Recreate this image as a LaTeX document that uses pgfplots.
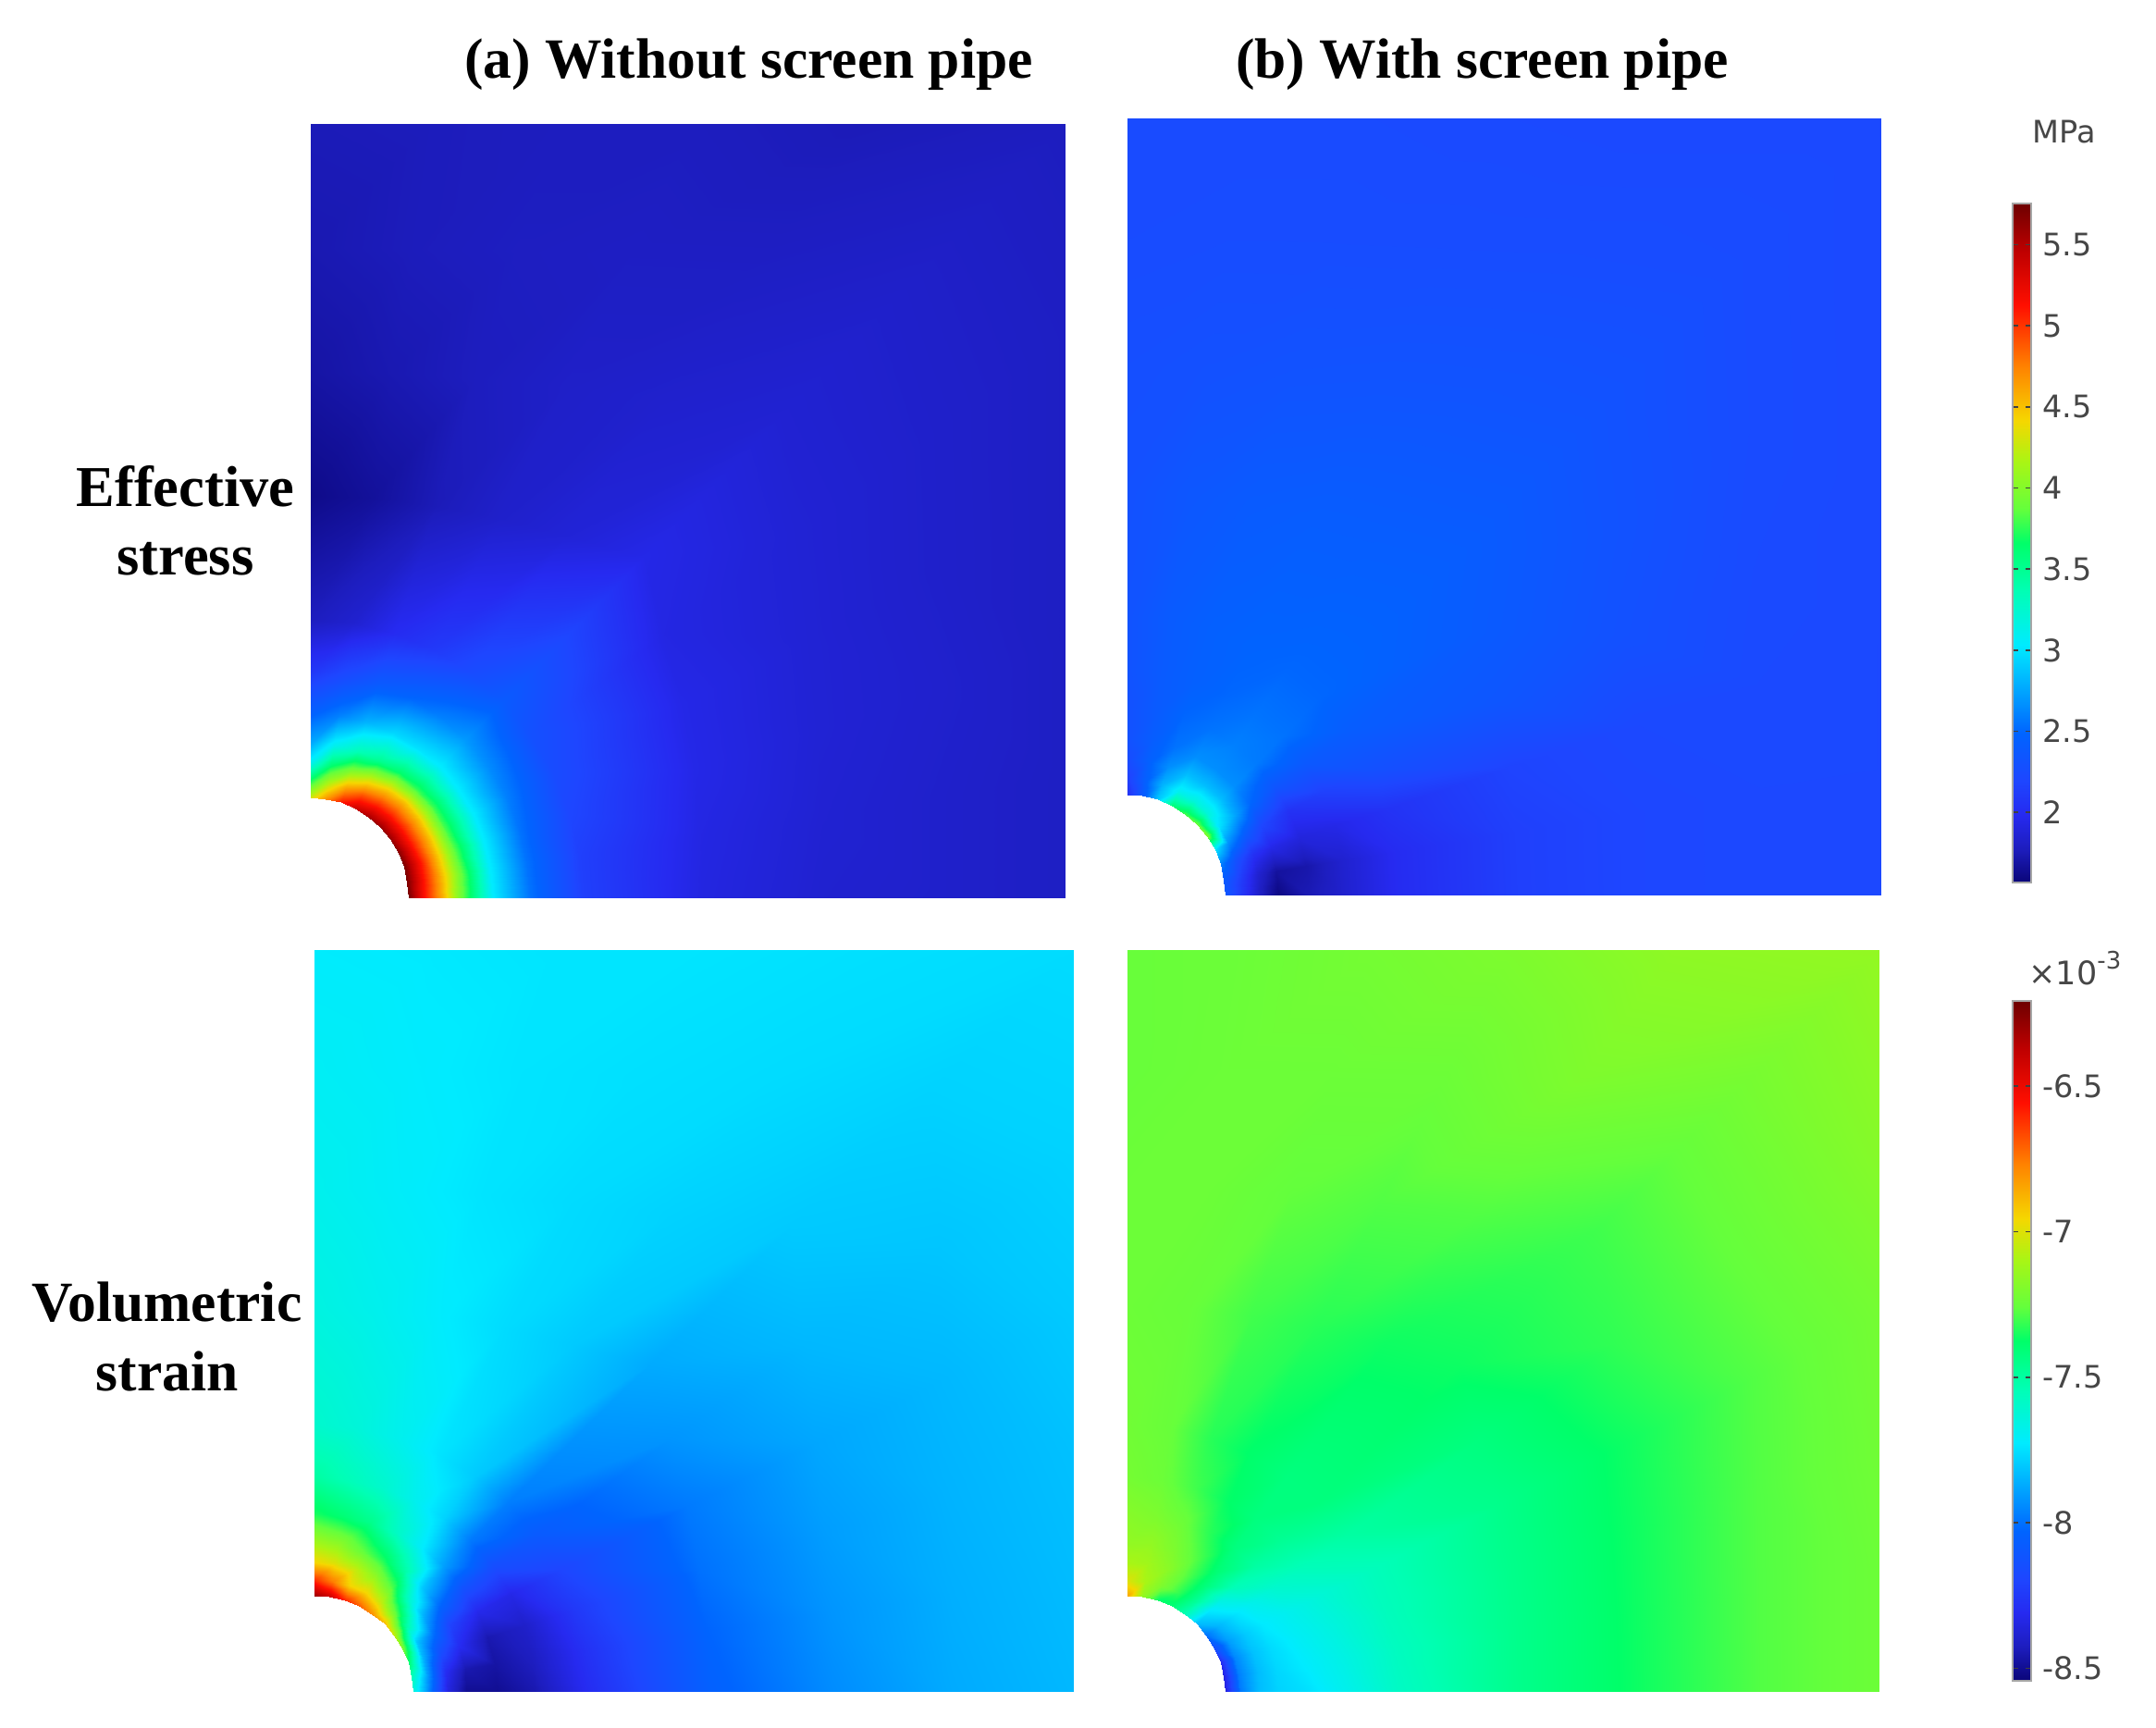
\documentclass[border=0pt]{standalone}
\usepackage{pgfplots}
\usepackage{pgfplotstable}
\usepackage{fontspec}
\pgfplotsset{compat=1.18}
\setmainfont{Liberation Serif}
\newfontfamily\cbfont{DejaVu Sans}
\definecolor{cbtext}{RGB}{70,70,70}

% rainbow map of the two colour bars
\pgfplotsset{colormap={comsol}{
  rgb255(0pt)=(10,5,120); rgb255(5pt)=(29,29,190); rgb255(10pt)=(38,42,240); rgb255(15pt)=(30,70,255);
  rgb255(22pt)=(0,100,255);
  rgb255(35pt)=(0,235,255); rgb255(43pt)=(0,255,180); rgb255(50pt)=(0,255,105);
  rgb255(55pt)=(100,255,60); rgb255(62pt)=(170,245,20); rgb255(68pt)=(245,215,0);
  rgb255(76pt)=(255,130,0); rgb255(85pt)=(255,15,0); rgb255(93pt)=(190,0,0);
  rgb255(100pt)=(110,0,0)}}

\pgfplotsset{panel/.style={
    scale only axis, anchor=south west,
    xmin=0, xmax=1, ymin=0, ymax=1,
    view={0}{90}, axis lines=none, ticks=none,
    colormap name=comsol,
  },
  field/.style={surf, shader=interp, mesh/rows=11, mesh/cols=11},
  bar/.style={
    anchor=south west, width=4pt,
    axis line style={black!35, line width=0.3pt},
    ytick style={black!75, line width=0.3pt},
    major tick length=1.2pt, tick align=inside, ytick pos=both,
    yticklabel pos=right,
    yticklabel style={font=\cbfont\fontsize{6.7}{8}\selectfont, text=cbtext, xshift=-1pt},
  },
}

% s = polar grid round the hole; columns: x y, stress a/b, strain a/b
\pgfplotstableread{
x y s1 s2 e1 e2
.130 0 5.70 2.35 -7.65 -8.35
.150 0 5.15 2.10 -7.95 -7.98
.175 0 4.55 1.80 -8.35 -7.83
.200 0 3.90 1.60 -8.50 -7.78
.240 0 3.05 1.75 -8.50 -7.75
.290 0 2.55 1.85 -8.45 -7.68
.360 0 2.15 2.00 -8.30 -7.58
.520 0 1.92 2.15 -8.05 -7.45
.680 0 1.85 2.20 -7.94 -7.36
.840 0 1.83 2.22 -7.87 -7.28
1 0 1.80 2.22 -7.84 -7.24
.128 .020 5.70 2.40 -7.55 -8.35
.148 .023 5.15 2.15 -7.90 -7.97
.173 .027 4.55 1.85 -8.30 -7.83
.198 .031 3.90 1.68 -8.45 -7.77
.237 .038 3.05 1.72 -8.47 -7.72
.286 .045 2.55 1.85 -8.42 -7.66
.356 .056 2.15 2.00 -8.28 -7.57
.517 .082 1.93 2.15 -8.03 -7.45
.678 .107 1.86 2.20 -7.92 -7.36
.839 .133 1.83 2.22 -7.86 -7.28
1 .158 1.80 2.22 -7.83 -7.24
.124 .040 5.70 2.60 -7.40 -8.30
.143 .046 5.15 2.30 -7.85 -7.95
.166 .054 4.55 2.05 -8.15 -7.82
.190 .062 3.85 1.95 -8.30 -7.76
.228 .074 3.05 1.90 -8.45 -7.70
.276 .090 2.55 1.95 -8.40 -7.64
.342 .111 2.20 2.05 -8.25 -7.56
.507 .165 1.95 2.18 -8.00 -7.45
.671 .218 1.87 2.22 -7.90 -7.36
.836 .272 1.84 2.23 -7.85 -7.28
1 .325 1.80 2.22 -7.82 -7.23
.116 .059 5.65 3.00 -7.20 -8.15
.134 .068 5.12 2.66 -7.80 -7.90
.156 .079 4.52 2.40 -8.00 -7.80
.178 .091 3.80 2.20 -8.20 -7.73
.214 .109 3.05 2.05 -8.32 -7.68
.258 .132 2.60 2.15 -8.33 -7.62
.321 .163 2.25 2.30 -8.20 -7.56
.491 .250 1.95 2.35 -7.98 -7.45
.660 .336 1.87 2.30 -7.88 -7.36
.830 .423 1.83 2.24 -7.84 -7.28
1 .510 1.80 2.22 -7.80 -7.22
.105 .076 5.60 4.00 -7.05 -8.00
.121 .088 5.10 3.00 -7.50 -7.85
.142 .103 4.50 2.75 -7.85 -7.75
.162 .118 3.78 2.50 -8.00 -7.68
.194 .141 3.05 2.35 -8.12 -7.60
.235 .170 2.65 2.38 -8.15 -7.55
.291 .212 2.30 2.42 -8.08 -7.50
.468 .340 1.93 2.40 -7.92 -7.42
.646 .469 1.87 2.32 -7.84 -7.32
.823 .598 1.83 2.25 -7.81 -7.25
1 .727 1.80 2.22 -7.78 -7.18
.092 .092 5.60 3.90 -6.90 -7.83
.106 .106 5.10 3.20 -7.25 -7.75
.124 .124 4.50 2.85 -7.60 -7.65
.141 .141 3.75 2.66 -7.80 -7.55
.170 .170 3.05 2.58 -7.90 -7.50
.205 .205 2.70 2.55 -7.98 -7.47
.255 .255 2.40 2.50 -7.97 -7.42
.441 .441 1.95 2.42 -7.87 -7.36
.627 .627 1.86 2.32 -7.80 -7.30
.814 .814 1.82 2.25 -7.78 -7.22
1 1 1.78 2.22 -7.76 -7.15
.076 .105 5.55 3.80 -6.80 -7.55
.088 .121 5.05 3.20 -7.05 -7.48
.103 .142 4.40 2.85 -7.30 -7.42
.118 .162 3.65 2.66 -7.50 -7.40
.141 .194 3.00 2.60 -7.72 -7.42
.170 .235 2.60 2.55 -7.78 -7.42
.212 .291 2.25 2.50 -7.80 -7.42
.340 .468 1.88 2.42 -7.80 -7.36
.469 .646 1.84 2.33 -7.78 -7.28
.598 .823 1.80 2.26 -7.76 -7.20
.727 1 1.76 2.22 -7.75 -7.16
.059 .116 5.40 3.60 -6.70 -7.40
.068 .134 4.90 3.10 -6.95 -7.32
.079 .156 4.20 2.85 -7.15 -7.28
.091 .178 3.50 2.66 -7.35 -7.28
.109 .214 2.95 2.55 -7.58 -7.33
.132 .258 2.50 2.50 -7.68 -7.37
.163 .321 2.10 2.48 -7.74 -7.38
.250 .491 1.83 2.42 -7.76 -7.33
.336 .660 1.82 2.33 -7.76 -7.28
.423 .830 1.80 2.26 -7.75 -7.24
.510 1 1.78 2.23 -7.74 -7.20
.040 .124 5.10 2.90 -6.60 -7.38
.046 .143 4.60 2.80 -6.95 -7.20
.054 .166 3.95 2.66 -7.05 -7.17
.062 .190 3.35 2.55 -7.25 -7.20
.074 .228 2.80 2.50 -7.45 -7.24
.090 .276 2.40 2.45 -7.60 -7.30
.111 .342 2.00 2.45 -7.68 -7.33
.165 .507 1.76 2.40 -7.72 -7.30
.218 .671 1.78 2.32 -7.74 -7.26
.272 .836 1.79 2.26 -7.74 -7.24
.325 1 1.78 2.24 -7.74 -7.22
.020 .128 4.70 2.40 -6.40 -7.15
.023 .148 4.20 2.45 -6.75 -7.10
.027 .173 3.60 2.45 -7.00 -7.12
.031 .198 3.10 2.42 -7.15 -7.15
.038 .237 2.60 2.40 -7.40 -7.20
.045 .286 2.25 2.40 -7.55 -7.24
.056 .356 1.85 2.40 -7.63 -7.25
.082 .517 1.67 2.36 -7.68 -7.25
.107 .678 1.74 2.30 -7.71 -7.24
.133 .839 1.77 2.26 -7.72 -7.24
.158 1 1.77 2.24 -7.73 -7.24
0 .130 4.30 2.05 -6.30 -6.85
0 .150 3.75 2.15 -6.60 -7.00
0 .175 3.10 2.25 -6.95 -7.10
0 .200 2.78 2.30 -7.10 -7.15
0 .240 2.45 2.30 -7.35 -7.18
0 .290 2.10 2.32 -7.50 -7.22
0 .360 1.78 2.32 -7.60 -7.23
0 .520 1.62 2.30 -7.65 -7.24
0 .680 1.70 2.28 -7.68 -7.24
0 .840 1.74 2.25 -7.70 -7.25
0 1 1.76 2.24 -7.72 -7.25
}\griddata

\begin{document}
\begin{tikzpicture}[x=1pt,y=1pt]
\path[use as bounding box] (0,0) rectangle (466.2,373.6);

\begin{axis}[panel, at={(67.2pt,179.4pt)}, width=163.2pt, height=167.4pt,
    point meta min=1.568, point meta max=5.754]
\addplot3[field] table[x=x,y=y,z=s1] {\griddata};
\end{axis}

\begin{axis}[panel, at={(243.8pt,180pt)}, width=163pt, height=168pt,
    point meta min=1.568, point meta max=5.754,
    colorbar,
    colorbar style={bar, at={(1.1742,0.0167)}, height=146.8pt,
      ytick={2,2.5,3,3.5,4,4.5,5,5.5},
      yticklabels={2,2.5,3,3.5,4,4.5,5,5.5}}]
\addplot3[field] table[x=x,y=y,z=s2] {\griddata};
\end{axis}

\begin{axis}[panel, at={(68pt,7.8pt)}, width=164.2pt, height=160.4pt,
    point meta min=-8.543, point meta max=-6.207]
\addplot3[field] table[x=x,y=y,z=e1] {\griddata};
\end{axis}

\begin{axis}[panel, at={(243.8pt,7.8pt)}, width=162.6pt, height=160.4pt,
    point meta min=-8.543, point meta max=-6.207,
    colorbar,
    colorbar style={bar, at={(1.177,0.015)}, height=147pt,
      ytick={-8.5,-8,-7.5,-7,-6.5},
      yticklabels={-8.5,-8,-7.5,-7,-6.5}}]
\addplot3[field] table[x=x,y=y,z=e2] {\griddata};
\end{axis}

% titles and row labels
\node[font=\bfseries\fontsize{12.3}{14}\selectfont] at (161.9,359.6) {(a) Without screen pipe};
\node[font=\bfseries\fontsize{12.3}{14}\selectfont] at (320.5,359.6) {(b) With screen pipe};
\node[font=\bfseries\fontsize{12.5}{14.9}\selectfont, align=center] at (40.1,261) {Effective\\stress};
\node[font=\bfseries\fontsize{12.3}{14.9}\selectfont, align=center] at (36.1,84.6) {Volumetric\\strain};

% colour bar units
\node[font=\cbfont\fontsize{6.7}{8}\selectfont, text=cbtext] at (446.3,345) {MPa};
\node[font=\cbfont\fontsize{7}{8}\selectfont, text=cbtext, inner sep=0pt] at (448.7,164.2) {×10\raisebox{0.9ex}{\fontsize{5.2}{6}\selectfont -3}};
\end{tikzpicture}
\end{document}
